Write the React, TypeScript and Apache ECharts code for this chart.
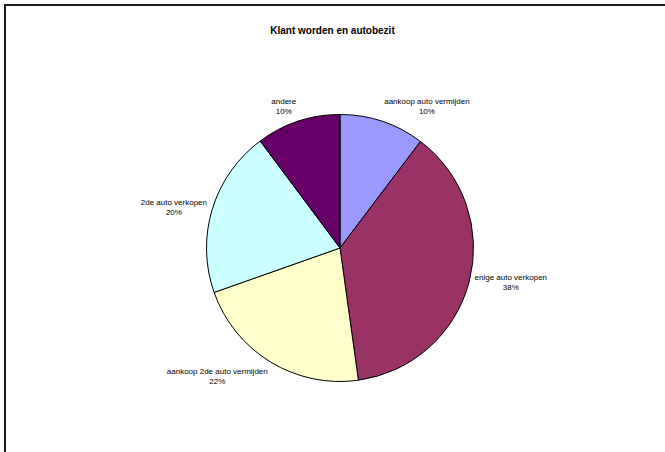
import React, { useEffect, useRef } from "react";
import * as echarts from "echarts";

const titleText = "Klant worden en autobezit";
const categories = [
  "aankoop auto vermijden",
  "enige auto verkopen",
  "aankoop 2de auto vermijden",
  "2de auto verkopen",
  "andere",
];
const values = [10.3, 37.5, 21.8, 20.2, 10.2];
const colors = ["#9999FF", "#993366", "#FFFFCC", "#CCFFFF", "#660066"];

const CX = 340;
const CY = 248;
const R = 133.5;
const ANCHOR = 139;

const clamp = (v: number, a: number, b: number) => Math.max(a, Math.min(b, v));

export default function App() {
  const ref = useRef<HTMLDivElement>(null);
  useEffect(() => {
    if (!ref.current) return;
    const chart = echarts.init(ref.current, undefined, { renderer: "svg" });
    const total = values.reduce((a, b) => a + b, 0);
    const mids: number[] = [];
    let acc = 0;
    values.forEach((v) => {
      mids.push(((acc + v / 2) / total) * Math.PI * 2);
      acc += v;
    });
    chart.setOption({
      animation: false,
      backgroundColor: "#ffffff",
      title: {
        text: titleText,
        left: "center",
        top: 20,
        textStyle: {
          fontFamily: "Liberation Sans, Arial, sans-serif",
          fontSize: 10,
          fontWeight: "bold",
          color: "#000",
        },
      },
      graphic: [
        {
          type: "rect",
          shape: { x: 5, y: 5, width: 700, height: 500 },
          style: { fill: "none", stroke: "#1a1a1a", lineWidth: 2 },
          silent: true,
        },
      ],
      series: [
        {
          type: "pie",
          center: [CX, CY],
          radius: R,
          startAngle: 90,
          clockwise: true,
          data: categories.map((c, i) => ({
            name: c,
            value: values[i],
            itemStyle: { color: colors[i] },
          })),
          itemStyle: { borderColor: "#000", borderWidth: 1 },
          label: {
            show: true,
            position: "outside",
            formatter: (p: any) => `${p.name}\n${Math.round(p.percent)}%`,
            fontFamily: "Liberation Sans, Arial, sans-serif",
            fontSize: 8,
            lineHeight: 10,
            color: "#000",
            align: "center",
          },
          labelLine: { show: false },
          labelLayout: (params: any) => {
            const th = mids[params.dataIndex];
            const w = params.labelRect.width;
            const h = params.labelRect.height;
            const s = Math.sin(th);
            const c = Math.cos(th);
            const px = CX + s * ANCHOR;
            const py = CY - c * ANCHOR;
            const ox = Math.sign(s) * (w / 2) * clamp(Math.abs(s) / 0.3, 0, 1);
            const oy =
              -Math.sign(c) * (h / 2) * clamp((Math.abs(c) - 0.31) / 0.53, 0, 1);
            return {
              x: px + ox,
              y: py + oy,
              align: "center",
              verticalAlign: "middle",
            };
          },
          emphasis: { disabled: true },
        },
      ],
    });
    return () => chart.dispose();
  }, []);
  return (
    <div
      ref={ref}
      style={{ position: "absolute", left: 0, top: 0, width: 665, height: 452 }}
    />
  );
}
